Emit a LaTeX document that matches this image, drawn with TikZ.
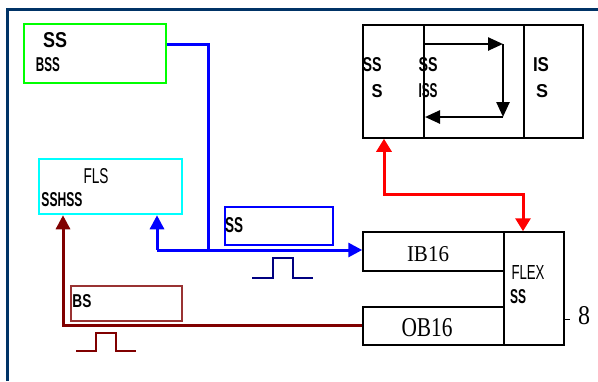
\documentclass[tikz,border=0pt]{standalone}
\usepackage{fontspec}
\setmainfont{Liberation Serif}
\setsansfont{Liberation Sans}
\usetikzlibrary{arrows.meta}
\definecolor{frameblue}{HTML}{003366}
\definecolor{maroonc}{HTML}{800000}
\definecolor{navyc}{HTML}{000080}
\definecolor{cyanc}{HTML}{00FFFF}
\definecolor{greenc}{HTML}{00FF00}
\definecolor{bluec}{HTML}{0000FF}
\definecolor{redc}{HTML}{FF0000}
\newcommand\labfit[3]{\resizebox{#1pt}{#2pt}{#3}}
\begin{document}
\begin{tikzpicture}[x=1pt,y=-1pt,
  gbox/.style={draw=greenc,line width=2.5pt,inner sep=0pt},
  cbox/.style={draw=cyanc,line width=2.5pt,inner sep=0pt},
  blk/.style={draw=black,line width=1.5pt,inner sep=0pt},
  lbl/.style={font=\sffamily\bfseries,inner sep=0pt,text=black},
  thin/.style={font=\sffamily,inner sep=0pt,text=black},
  big/.style={font=\rmfamily,inner sep=0pt},
  conn/.style={line width=3pt},
  tip/.style={-{Triangle[length=14pt,width=14pt]}},
  itip/.style={-{Triangle[length=15pt,width=13pt]}},
]
\useasboundingbox (0,0) rectangle (598,381);
% frame
\draw[frameblue,line width=3pt] (7,381) -- (7,9) -- (598,9);
% green box
\node[gbox,minimum width=142pt,minimum height=59pt] (g) at (95,53.5) {};
\node[lbl] (g1) at (55,40.5) {\labfit{24}{15}{SS}};
\node[lbl] (g2) at (48,65) {\labfit{24}{14}{BSS}};
% cyan box
\node[cbox,minimum width=143pt,minimum height=55pt] (c) at (110.5,186.5) {};
\node[thin] (c1) at (96,176) {\labfit{25}{15}{FLS}};
\node[lbl] (c2) at (62,200) {\labfit{41}{14}{SSHSS}};
% blue label box
\node[draw=bluec,line width=1.3pt,minimum width=108pt,minimum height=38pt,inner sep=0pt] (bl) at (279,226) {};
\node[lbl] (bl1) at (234,225) {\labfit{18}{15}{SS}};
% maroon label box
\node[draw=maroonc!80,line width=1.3pt,minimum width=111pt,minimum height=35pt,inner sep=0pt] (ml) at (126.5,303.5) {};
\node[lbl] (ml1) at (82,301) {\labfit{19}{13}{BS}};
% IB16 / OB16 / FLEX
\node[blk,minimum width=141pt,minimum height=39pt] (ib) at (433.5,251.5) {};
\node[big] (ibt) at (428,254) {\labfit{42}{15}{IB16}};
\node[blk,minimum width=141pt,minimum height=38pt] (ob) at (433.5,326) {};
\node[big] (obt) at (427,328) {\labfit{51}{18}{OB16}};
\node[blk,minimum width=60pt,minimum height=113pt] (fx) at (534,288.5) {};
\node[thin] (fxt) at (528,272) {\labfit{33}{14}{FLEX}};
\node[lbl] (fxs) at (518,296.5) {\labfit{16}{14}{SS}};
\coordinate (tk) at (570,319);
\draw[line width=1pt] (fx.east |- tk) -- (tk);
\node[big] (eight) at (584,316) {\labfit{12}{18}{8}};
% top right box
\node[blk,minimum width=220pt,minimum height=113pt] (tr) at (473,81.5) {};
\coordinate (d1) at (424,25);
\coordinate (d2) at (524,25);
\draw[line width=1.5pt] (d1) -- (d1 |- tr.south);
\draw[line width=1.5pt] (d2) -- (d2 |- tr.south);
\coordinate (a1) at (425,44);
\coordinate (a2) at (503,44);
\coordinate (a3) at (503,117);
\coordinate (a4) at (425,117);
\draw[line width=2.5pt,itip] (a1) -- (a2);
\draw[line width=2.5pt,itip] (a2) -- (a3);
\draw[line width=2.5pt,itip] (a3) -- (a4);
\node[lbl] (t1) at (372,65) {\labfit{19}{14}{SS}};
\node[lbl] (t2) at (377,91) {\labfit{11}{13}{S}};
\node[lbl] (t3) at (428,65) {\labfit{19}{14}{SS}};
\node[lbl] (t4) at (428,91) {\labfit{19}{14}{ISS}};
\node[lbl] (t5) at (541,65) {\labfit{16}{14}{IS}};
\node[lbl] (t6) at (542,91) {\labfit{12}{13}{S}};
% blue connectors
\coordinate (bj) at (208,250);
\coordinate (bl0) at (157,250);
\draw[bluec,conn] (g.east |- 0,44) -- (208,44) -- (bj);
\draw[bluec,conn,tip] (bl0) -- (ib.west |- bl0);
\draw[bluec,conn,tip] (bl0) -- (bl0 |- c.south);
% navy pulse
\draw[navyc,line width=2.5pt] (252,278) -- (273,278) -- (273,258) -- (293,258) -- (293,278) -- (313,278);
% red connector
\coordinate (r1) at (384,194);
\coordinate (r2) at (523,194);
\draw[redc,conn,{Triangle[length=13pt,width=15pt]}-{Triangle[length=13pt,width=15pt]}] (r1 |- tr.south) -- (r1) -- (r2) -- (r2 |- fx.north);
% maroon connector
\coordinate (m1) at (63,325);
\draw[maroonc,conn,tip] (ob.west |- m1) -- (m1) -- (m1 |- c.south);
% maroon pulse
\draw[maroonc,line width=2.5pt] (76,351) -- (96,351) -- (96,333) -- (116,333) -- (116,351) -- (136,351);
\end{tikzpicture}
\end{document}
